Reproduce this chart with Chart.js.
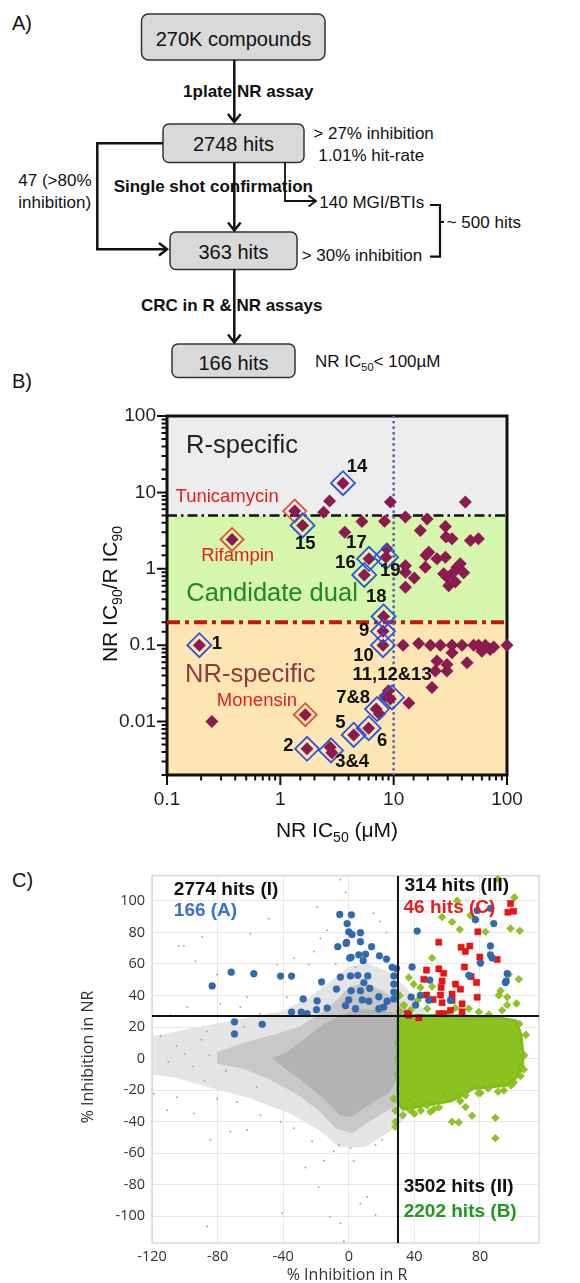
<!DOCTYPE html>
<html>
<head>
<meta charset="utf-8">
<script src="https://cdn.jsdelivr.net/npm/chart.js@4.4.0/dist/chart.umd.min.js"></script>
<style>
  body { margin: 0; background: #fff; }
  #page { position: relative; width: 580px; height: 1283px; overflow: hidden; font-family: 'Liberation Sans', Arial, sans-serif; }
  #flow { position: absolute; left: 0; top: 0; }
  .panel { position: absolute; left: 12px; font-size: 20px; color: #111; }
  #chartB { position: absolute; left: 0; top: 390px; }
  #chartC { position: absolute; left: 0; top: 860px; }
</style>
</head>
<body>
<div id="page">
  <svg id="flow" width="580" height="390" viewBox="0 0 580 390">
    <g font-family="'Liberation Sans', Arial, sans-serif" fill="#111">
      <rect x="141.5" y="14" width="183.5" height="46" rx="7" fill="#d9d9d9" stroke="#333" stroke-width="1.5"/>
      <text x="233.5" y="45.5" font-size="20" text-anchor="middle">270K compounds</text>
      <rect x="163" y="124" width="141" height="38.5" rx="6" fill="#d9d9d9" stroke="#333" stroke-width="1.5"/>
      <text x="233.5" y="151.2" font-size="20" text-anchor="middle">2748 hits</text>
      <rect x="170" y="232" width="127" height="37.5" rx="6" fill="#d9d9d9" stroke="#333" stroke-width="1.5"/>
      <text x="233.5" y="258.9" font-size="20" text-anchor="middle">363 hits</text>
      <rect x="172" y="344" width="123" height="33.5" rx="6" fill="#d9d9d9" stroke="#333" stroke-width="1.5"/>
      <text x="233.5" y="369.5" font-size="20" text-anchor="middle">166 hits</text>

      <text x="248.3" y="96.8" font-size="17" font-weight="bold" text-anchor="middle">1plate NR assay</text>
      <text x="313.3" y="138.8" font-size="17">&gt; 27% inhibition</text>
      <text x="318.3" y="161" font-size="17">1.01% hit-rate</text>
      <text x="18.3" y="186" font-size="17">47 (&gt;80%</text>
      <text x="18.3" y="207.8" font-size="17">inhibition)</text>
      <text x="213.3" y="192" font-size="17" font-weight="bold" text-anchor="middle">Single shot confirmation</text>
      <text x="319.3" y="207.8" font-size="17">140 MGI/BTIs</text>
      <text x="301.7" y="261" font-size="17">&gt; 30% inhibition</text>
      <text x="446.7" y="227.8" font-size="17">~ 500 hits</text>
      <text x="231.7" y="311" font-size="17" font-weight="bold" text-anchor="middle">CRC in R &amp; NR assays</text>
      <text x="315" y="367" font-size="17">NR IC<tspan font-size="11" dy="4">50</tspan><tspan dy="-4">&lt; 100µM</tspan></text>
    </g>
    <g fill="none" stroke="#111" stroke-width="2.5" stroke-linejoin="miter">
      <line x1="234.3" y1="60" x2="234.3" y2="122"/>
      <polyline points="228,114 234.3,122 240.6,114"/>
      <polyline points="163,143.3 97.3,143.3 97.3,249.3 167,249.3"/>
      <polyline points="159,243 167,249.3 159,255.6"/>
      <line x1="234.3" y1="162.5" x2="234.3" y2="230.5"/>
      <polyline points="228,222.5 234.3,230.5 240.6,222.5"/>
      <line x1="234.3" y1="269.5" x2="234.3" y2="342.5"/>
      <polyline points="228,334.5 234.3,342.5 240.6,334.5"/>
      <polyline points="285,162.5 285,201 316,201" stroke-width="1.8"/>
      <polyline points="308.5,195.5 316,201 308.5,206.5" stroke-width="1.8"/>
      <polyline points="430,205 440,205 440,256.7 430,256.7" stroke-width="2.2"/>
      <line x1="440" y1="222" x2="444" y2="222" stroke-width="2"/>
    </g>
  </svg>
  <div class="panel" style="top:12px;">A)</div>
  <div class="panel" style="top:370px;">B)</div>
  <div class="panel" style="top:869px;">C)</div>
  <canvas id="chartB" width="580" height="460"></canvas>
  <canvas id="chartC" width="580" height="423"></canvas>
</div>
<script>
var FONT = "'Liberation Sans', Arial, sans-serif";
var FONT_C = "'Open Sans', 'DejaVu Sans', sans-serif";

// ---------- panel B: NR IC50 (uM) against NR IC90 / R IC90 ----------
var hitIC50 = [0.193, 0.249, 0.375, 1.34, 1.57, 1.66, 1.72, 2.75, 2.85, 2.41, 2.72, 3.57, 3.7, 4.44,
  5.25, 5.5, 6.02, 6.06, 7.0, 7.5, 8.05, 8.05, 8.15, 8.3, 8.56, 8.7, 9.0, 9.35, 8.4, 9.35,
  12.1, 12.7, 12.7, 12.7, 12.7, 13.6, 15.2, 16.6, 17.2, 19.0, 19.3, 19.7, 20.4, 21.1, 21.8,
  23.3, 24.1, 24.1, 25.8, 27.6, 28.6, 28.6, 29.0, 29.5, 29.5, 29.5, 30.6, 32.7, 32.7, 32.7,
  32.7, 35.0, 36.2, 38.7, 40.1, 41.5, 42.9, 44.4, 47.5, 50.8, 56.2, 56.0, 60.0, 64.4, 71.0,
  76.3, 100];
var hitRatio = [0.1, 0.01, 2.42, 5.7, 3.7, 0.0123, 0.0044, 0.0046, 0.0039, 5.5, 7.7, 13.2, 3.0, 0.0067,
  4.17, 0.83, 0.0082, 1.35, 0.0146, 0.0126, 0.152, 0.1, 0.238, 4.2, 1.42, 1.83, 0.0253, 0.0197, 0.0217, 7.5,
  0.1, 4.75, 1.1, 0.9, 0.575, 0.0175, 0.76, 0.105, 3.18, 1.05, 1.5, 4.5, 1.65, 0.1, 0.028,
  0.046, 0.062, 1.35, 0.1, 0.86, 3.59, 1.42, 2.6, 0.78, 0.056, 0.046, 0.6, 2.47, 0.1, 0.0795,
  0.86, 0.67, 1.05, 1.16, 0.1, 0.89, 7.5, 0.059, 2.35, 0.1, 0.1, 2.47, 0.0835, 0.1, 0.088,
  0.095, 0.1];
// numbered compounds (blue) and reference drugs (red)
var blueIC50 = [0.193, 1.72, 2.8, 4.44, 6.02, 7.13, 8.05, 8.05, 9.67, 3.57, 1.57, 5.5, 6.06, 8.15, 8.56];
var blueRatio = [0.1, 0.0044, 0.0042, 0.0067, 0.0082, 0.0146, 0.152, 0.1, 0.0207, 13.2, 3.7, 0.83, 1.35, 0.238, 1.42];
var drugIC50 = [1.34, 0.375, 1.66];
var drugRatio = [5.7, 2.42, 0.0123];
var rSpecificCut = 5;
var nrSpecificCut = 0.2;
var ic50Cut = 10;
var bXMin = 0.1, bXMax = 100, bYMin = 0.002, bYMax = 100;
var bXTickLabels = [0.1, 1, 10, 100];
var bYTickLabels = [0.01, 0.1, 1, 10, 100];

// annotations for panel B: [text, kind, x, y]
var bNotes = [
  ['R-specific', 'region', 0.459, 40.6],
  ['Candidate dual', 'dual', 0.845, 0.462],
  ['NR-specific', 'nr', 0.543, 0.0406],
  ['Tunicamycin', 'drug', 0.339, 8.69],
  ['Rifampin', 'drug', 0.42, 1.46],
  ['Monensin', 'drug', 0.622, 0.0188],
  ['14', 'num', 4.75, 21.4], ['15', 'num', 1.66, 2.12], ['17', 'num', 4.69, 2.16],
  ['16', 'num', 3.75, 1.2], ['19', 'num', 9.35, 0.93], ['18', 'num', 7.03, 0.43],
  ['9', 'num', 5.5, 0.153], ['10', 'num', 5.43, 0.0724], ['11,12&13', 'num', 9.68, 0.0406],
  ['7&8', 'num', 4.39, 0.0203], ['5', 'num', 3.39, 0.0096], ['6', 'num', 7.9, 0.00564],
  ['2', 'num', 1.18, 0.00486], ['3&4', 'num', 4.3, 0.00295], ['1', 'num', 0.276, 0.103]
];

// ---------- panel C: % inhibition in R against % inhibition in NR ----------
// outlines of the dense grey cloud of screened compounds (outer speckle, dense speckle, solid core)
var greyHaloX = [-119, -100, -80, -60, -40, -25, -12, 0, 12, 24, 34, 46, 50, 44, 28, 10, -6, -18, -35, -60, -85, -105, -119];
var greyHaloY = [14, 18, 22, 26, 30, 38, 48, 58, 60, 55, 46, 30, 0, -26, -44, -56, -56, -45, -35, -25, -18, -12, -10];
var greyMidX = [-80, -60, -45, -30, -18, -8, 0, 10, 22, 32, 44, 46, 40, 28, 12, 2, -8, -18, -32, -50, -65, -80];
var greyMidY = [4, 11, 15, 20, 28, 36, 45, 48, 42, 35, 20, 0, -20, -30, -40, -47, -44, -33, -22, -12, -6, -3];
var greyCoreX = [-46, -38, -29.5, -15, -7, 0, 10, 20, 31, 40, 42, 36, 28.5, 25, 11, 1, -5, -15, -29.5, -40];
var greyCoreY = [0, 4, 10, 22, 26, 29, 31, 30, 28, 15, 0, -10, -14, -21, -30, -37, -36, -25.5, -13, -5];
var greySparseX = [-86.3, -40.6, -18.4, -11.3, -5.1, -3, 7.1, 16.3, 11.2, -26.4, -15.2, -9.1, -6.1, 1, 3, 16.3, 20.3,
  -62, -72.2, -84.3, -94.5, -110.8, -53.9, -118.9, -104.7, -80.3, -68.1, -41.6, -33.5, -22.4,
  -103.6, -100.6, -93.5, -89.4, -80.3, -62, -48.8, -60, -19.3, -5.1, -1.9, -13.2, -33.5, -43.7, -24.4,
  -66.1, -78.3, -98.5, -108.7, -114.8, -86.4, -54, -37.8, -21.3, -17.3, 19, 23, 15, -8, 4,
  -110, -105, -95, -90, -85, -75, -70, -64, -56, -100, -88];
var greySparseY = [-106.5, -98.2, -81.6, -100.3, -104.5, -115.9, -92, -99.3, -87.8, -69.1, -65, -58.8, -54.6, -56.7, -65, -54.6, -51.5,
  -45.3, -46.3, -51.5, -34.9, -32.8, -35.9, -22.4, -24.5, -25.5, -27.6, -40.1, -44.2, -52.5,
  71.4, 71.4, 61.7, 77.3, 53.4, 38.9, 88.7, 79.3, 96, 113.6, 105.3, 81.4, 63.8, 59.6, 59.6,
  32.6, 34.7, 32.6, 27.4, 14.1, 17.2, 28.5, 38.9, 67.9, 76.2, 87, 80, 92, 60, 58,
  -2, 8, -5, 12, 2, -8, 16, 20, -18, 3, -14];
// dense green cloud (R-specific hits) and single green hits
var greenCoreX = [29.9, 50, 70, 90, 102, 105, 106, 106, 102, 96, 86, 76, 68, 62, 50, 40, 33, 29.9];
var greenCoreY = [27, 27.5, 27, 26, 24, 15, 5, -5, -12, -17, -18, -19, -24, -27, -29, -31, -32, -28];
var greenX = [90.9, 101, 56.9, 63, 74.2, 67.7, 83.3, 98.6, 104.3, 66.1, 50.8, 80.3, 103.7, 36.6, 39.6, 50.8,
  91.5, 96.6, 102.3, 93.5, 43.7, 33.6, 37.6, 47.8, 73.2, 79.3, 85.4, 97.6, 92.5, 96.6, 60, 65, 42, 31, 31,
  28.5, 28.5, 37.6, 49.8, 47.8, 63, 67.1, 71.2, 75.2, 71.2, 80.3, 89.4, 89.4, 94.5, 100.6, 104.7, 105.7,
  84.4, 60, 39.6, 27.4, 104.7, 102.7, 100.6, 106.7, 28.4, 31, 30, 30, 30,
  33, 40, 55, 58, 68, 85, 99, 107, 108, 104, 96, 44, 52, 79, 91];
var greenY = [114, 102.2, 89.8, 86.6, 90.8, 81.9, 80.4, 82.5, 81, 100.1, 63.8, 61.1, 50.3, 51.4, 47.2, 45.7,
  40.1, 39, 34.9, 30.6, 45.1, 33.9, 30.8, 31.6, 31.6, 29.5, 27.9, 53.4, 43, 34, 28, 32, 37, 40, 30,
  -40.1, -43.2, -32.8, -33.8, -29.7, -40.1, -40.5, -30.7, -36.3, -23.4, -21.8, -37.6, -50.5, -20.3, -15.1, -11, -5.8,
  -16.2, -22.4, -26.6, -25.5, 4.5, 11.8, -11, -6.9, -33, -20, -10, 0, 10,
  -36, -35, -31, -26, -27, -19, -17, 2, 15, 22, -14, -33, -32, -22, -21];
var redX = [98.6, 97, 100.5, 78.7, 54.9, 68.5, 73.8, 71.1, 79.9, 90.5, 47.4, 54.9, 70.5, 74.6, 57.9, 45.8, 56.9,
  65.1, 77.9, 56.3, 47.4, 55.9, 63, 68.1, 78.3, 51.4, 56.9, 69.1, 63, 57.9, 69.1, 36.6, 35.6, 55, 62, 42.7];
var redY = [98.4, 92.8, 93.5, 80.4, 73.8, 70.6, 71.4, 67.9, 64.4, 62.8, 56.1, 56.9, 58.1, 52, 54.1, 50.3, 49.2,
  47.2, 48.2, 45.1, 40.3, 40.3, 40.9, 44, 38.9, 37.4, 35.4, 34.7, 36.8, 28.5, 29.6, 27.5, 28.5, 28.5, 30.6, 25.8];
var blueX = [-83.3, -71.7, -57.9, -41.6, -34.9, -27.8, -16.6, -34.9, -29, -19.3, -13.2, -69.7, -52.8, -69.7, -7.5,
  -25.4, -19.7, -2, 4.1, -5.5, 1.6, -1, 0, 2, 7.1, -1.4, -6.7, 7.1, 13.9, 1.4, 6.1, 10.2, 8.8, 18.7, 23, 26.4,
  29.1, 27.5, -5.1, 1, 5.5, 11.6, 9.2, 12.8, 1.4, 7.1, 0, 8.2, 12.2, 18.3, 23.4, 27.5, 21.3, 18.3, 27.5, 27.5,
  -1.6, 0.6, 78.3, 77.2, 88.4, 41.7, 86.4, 86.4, 87.4, 38.6, 49.4, 96.6, 95.5, 73.2, 43.7, 38, 48.8, 62, 40.7,
  86.4, 80.3, 96];
var blueY = [46.1, 54.8, 53.8, 52.3, 52.3, 37.8, 48.6, 29.5, 29.5, 36.6, 32, 23.3, 21.7, 15.6, 44.1,
  28.5, 31, 33.6, 31.6, 91.4, 91.2, 85.6, 80.4, 78.7, 79.8, 73.7, 71, 74.1, 71, 64.2, 65.8, 66.2, 62.1, 65.2, 63.1, 57.9,
  57.1, 52.4, 51.7, 52.4, 52.8, 52.4, 48.2, 44.5, 43, 43, 37.2, 37.2, 36.4, 39.2, 36.4, 37.8, 32.6, 31.6, 47.2, 42.1,
  73, 63.8, 93.9, 88.1, 85.6, 80.9, 71.4, 65.8, 63.8, 58.1, 49.8, 53.9, 48.2, 52.8, 40.1, 39, 37, 37, 33.9,
  95.3, 60.6, 49.2];
var rCut = 30;   // % inhibition in R
var nrCut = 27;  // % inhibition in NR
var cXMin = -120, cXMax = 116, cYMin = -117, cYMax = 116;
var cXTicks = [-120, -80, -40, 0, 40, 80];
var cYTicks = [-100, -80, -60, -40, -20, 0, 20, 40, 60, 80, 100];
// annotations for panel C: [text, colour, x, y]
var cNotes = [
  ['2774 hits (I)', '#111', -106.7, 107],
  ['166 (A)', '#3a6fd8', -106.7, 93.9],
  ['314 hits (III)', '#111', 34, 109.5],
  ['46 hits (C)', '#f01818', 33.4, 95.6],
  ['3502 hits (II)', '#111', 33.5, -81.2],
  ['2202 hits (B)', '#1f9a1f', 33.5, -97.2]
];

function pts(xs, ys) {
  return xs.map(function (x, i) { return { x: x, y: ys[i] }; });
}
function closed(xs, ys) {
  var p = pts(xs, ys);
  p.push(p[0]);
  return p;
}
function isLabel(v, list) {
  for (var i = 0; i < list.length; i++) {
    if (Math.abs(v - list[i]) / list[i] < 1e-6) return String(list[i]);
  }
  return '';
}
// draws text pieces, some as subscripts
function drawRich(ctx, parts, x, y) {
  var total = 0;
  parts.forEach(function (p) {
    ctx.font = p.size + 'px ' + FONT;
    p.w = ctx.measureText(p.t).width;
    total += p.w;
  });
  var cx = x - total / 2;
  parts.forEach(function (p) {
    ctx.font = p.size + 'px ' + FONT;
    ctx.fillText(p.t, cx, y + (p.dy || 0));
    cx += p.w;
  });
}

var bPlugin = {
  id: 'bDecor',
  beforeDatasetsDraw: function (chart) {
    var ctx = chart.ctx, a = chart.chartArea, xs = chart.scales.x, ys = chart.scales.y;
    ctx.save();
    var yTop = ys.getPixelForValue(bYMax), yR = ys.getPixelForValue(rSpecificCut);
    var yNR = ys.getPixelForValue(nrSpecificCut), yBot = ys.getPixelForValue(bYMin);
    ctx.fillStyle = '#ededed';
    ctx.fillRect(a.left, yTop, a.right - a.left, yR - yTop);
    ctx.fillStyle = '#d6f5ad';
    ctx.fillRect(a.left, yR, a.right - a.left, yNR - yR);
    ctx.fillStyle = '#fde6b4';
    ctx.fillRect(a.left, yNR, a.right - a.left, yBot - yNR);
    // tick marks
    ctx.strokeStyle = '#111';
    ctx.lineWidth = 2;
    ctx.beginPath();
    xs.ticks.forEach(function (t) {
      var px = xs.getPixelForValue(t.value);
      var len = isLabel(t.value, bXTickLabels) ? 10 : 5.5;
      ctx.moveTo(px, a.bottom); ctx.lineTo(px, a.bottom + len);
    });
    ys.ticks.forEach(function (t) {
      var py = ys.getPixelForValue(t.value);
      var len = isLabel(t.value, bYTickLabels) ? 10 : 5.5;
      ctx.moveTo(a.left, py); ctx.lineTo(a.left - len, py);
    });
    ctx.stroke();
    ctx.lineWidth = 3;
    ctx.strokeRect(a.left, a.top, a.right - a.left, a.bottom - a.top);
    ctx.restore();
  },
  afterDatasetsDraw: function (chart) {
    var ctx = chart.ctx, xs = chart.scales.x, ys = chart.scales.y;
    ctx.save();
    ctx.textAlign = 'center';
    ctx.textBaseline = 'middle';
    bNotes.forEach(function (n) {
      var px = xs.getPixelForValue(n[2]), py = ys.getPixelForValue(n[3]);
      if (n[1] === 'num') { ctx.font = 'bold 18.5px ' + FONT; ctx.fillStyle = '#111'; }
      else if (n[1] === 'drug') { ctx.font = '18.5px ' + FONT; ctx.fillStyle = '#e3201b'; }
      else if (n[1] === 'region') { ctx.font = '25.5px ' + FONT; ctx.fillStyle = '#222'; }
      else if (n[1] === 'dual') { ctx.font = '25.5px ' + FONT; ctx.fillStyle = '#1c8a1c'; }
      else { ctx.font = '25.5px ' + FONT; ctx.fillStyle = '#8c3b3b'; }
      ctx.fillText(n[0], px, py);
    });
    // axis titles
    ctx.fillStyle = '#111';
    ctx.textAlign = 'left';
    ctx.textBaseline = 'alphabetic';
    drawRich(ctx, [{ t: 'NR IC', size: 21 }, { t: '50', size: 14, dy: 5 }, { t: ' (μM)', size: 21 }], 337, 447);
    ctx.translate(117, 204);
    ctx.rotate(-Math.PI / 2);
    drawRich(ctx, [{ t: 'NR IC', size: 21 }, { t: '90', size: 14, dy: 5 }, { t: '/R IC', size: 21 }, { t: '90', size: 14, dy: 5 }], 0, 0);
    ctx.restore();
  }
};

var chartB = new Chart(document.getElementById('chartB'), {
  type: 'scatter',
  data: {
    datasets: [
      { data: pts(blueIC50, blueRatio), pointStyle: 'rectRot', pointRadius: 12, backgroundColor: 'rgba(0,0,0,0)',
        borderColor: '#2b55dc', borderWidth: 1.8, clip: false, order: 0 },
      { data: pts(drugIC50, drugRatio), pointStyle: 'rectRot', pointRadius: 11.5, backgroundColor: 'rgba(0,0,0,0)',
        borderColor: '#e8502a', borderWidth: 1.8, clip: false, order: 1 },
      { data: pts(hitIC50, hitRatio), pointStyle: 'rectRot', pointRadius: 6.5, backgroundColor: '#8b1b4e',
        borderColor: '#8b1b4e', borderWidth: 0, clip: false, order: 2 },
      { type: 'line', data: [{ x: bXMin, y: rSpecificCut }, { x: bXMax, y: rSpecificCut }], borderColor: '#111',
        borderWidth: 2.5, borderDash: [10, 4, 2.5, 4], pointRadius: 0, order: 4 },
      { type: 'line', data: [{ x: bXMin, y: nrSpecificCut }, { x: bXMax, y: nrSpecificCut }], borderColor: '#c3170c',
        borderWidth: 4, borderDash: [13, 5, 4, 5], pointRadius: 0, order: 4 },
      { type: 'line', data: [{ x: ic50Cut, y: bYMin }, { x: ic50Cut, y: bYMax }], borderColor: '#4b62b4',
        borderWidth: 2.8, borderDash: [0.1, 5.5], borderCapStyle: 'round', pointRadius: 0, order: 3 }
    ]
  },
  options: {
    responsive: false,
    animation: false,
    events: [],
    layout: { padding: { top: 26, right: 73, left: 0, bottom: 0 } },
    plugins: { legend: { display: false }, tooltip: { enabled: false } },
    scales: {
      x: {
        type: 'logarithmic', min: bXMin, max: bXMax,
        grid: { display: false, drawTicks: false }, border: { display: false },
        ticks: { autoSkip: false, maxRotation: 0, padding: 13, color: '#222', font: { family: FONT, size: 19 },
          callback: function (v) { return isLabel(v, bXTickLabels); } },
        afterFit: function (s) { s.height = 75; }
      },
      y: {
        type: 'logarithmic', min: bYMin, max: bYMax,
        grid: { display: false, drawTicks: false }, border: { display: false },
        ticks: { autoSkip: false, padding: 11, color: '#222', font: { family: FONT, size: 19 },
          callback: function (v) { return isLabel(v, bYTickLabels); } },
        afterFit: function (s) { s.width = 167; }
      }
    }
  },
  plugins: [bPlugin]
});

var cPlugin = {
  id: 'cDecor',
  beforeDatasetsDraw: function (chart) {
    var ctx = chart.ctx, a = chart.chartArea;
    ctx.save();
    ctx.strokeStyle = '#d7d7d7';
    ctx.lineWidth = 1.5;
    ctx.strokeRect(a.left, a.top, a.right - a.left, a.bottom - a.top);
    ctx.restore();
  },
  afterDatasetsDraw: function (chart) {
    var ctx = chart.ctx, xs = chart.scales.x, ys = chart.scales.y;
    ctx.save();
    ctx.textAlign = 'left';
    ctx.textBaseline = 'middle';
    ctx.font = 'bold 19px ' + FONT;
    cNotes.forEach(function (n) {
      ctx.fillStyle = n[1];
      ctx.fillText(n[0], xs.getPixelForValue(n[2]), ys.getPixelForValue(n[3]));
    });
    ctx.fillStyle = '#333';
    ctx.textAlign = 'center';
    ctx.font = '16px ' + FONT_C;
    ctx.fillText('% Inhibition in R', 347, 415);
    ctx.translate(88, 197);
    ctx.rotate(-Math.PI / 2);
    ctx.fillText('% Inhibition in NR', 0, 0);
    ctx.restore();
  }
};

var chartC = new Chart(document.getElementById('chartC'), {
  type: 'scatter',
  data: {
    datasets: [
      { type: 'line', data: [{ x: rCut, y: cYMin }, { x: rCut, y: cYMax }], borderColor: '#111', borderWidth: 2,
        pointRadius: 0, order: 0 },
      { type: 'line', data: [{ x: cXMin, y: nrCut }, { x: cXMax, y: nrCut }], borderColor: '#111', borderWidth: 2,
        pointRadius: 0, order: 0 },
      { data: pts(blueX, blueY), pointStyle: 'circle', pointRadius: 3.4, backgroundColor: '#2f6bb3',
        borderColor: '#2a5e9f', borderWidth: 0.5, order: 1 },
      { data: pts(redX, redY), pointStyle: 'rect', pointRadius: 4.3, backgroundColor: '#f01212',
        borderColor: '#d00', borderWidth: 0.5, order: 2 },
      { data: pts(greenX, greenY), pointStyle: 'rectRot', pointRadius: 3.8, backgroundColor: '#8fc51f',
        borderColor: '#79ad12', borderWidth: 0.6, order: 3 },
      { type: 'line', data: closed(greenCoreX, greenCoreY), fill: 'shape', backgroundColor: '#8cc21f',
        borderColor: '#86bb1c', borderWidth: 3, pointRadius: 0, tension: 0, order: 4 },
      { data: pts(greySparseX, greySparseY), pointStyle: 'circle', pointRadius: 1, backgroundColor: '#a9a9a9',
        borderWidth: 0, order: 5 },
      { type: 'line', data: closed(greyCoreX, greyCoreY), fill: 'shape', backgroundColor: '#b3b3b3',
        borderColor: '#b3b3b3', borderWidth: 1, pointRadius: 0, tension: 0, order: 6 },
      { type: 'line', data: closed(greyMidX, greyMidY), fill: 'shape', backgroundColor: '#c8c8c8',
        borderColor: '#c8c8c8', borderWidth: 1, pointRadius: 0, tension: 0, order: 7 },
      { type: 'line', data: closed(greyHaloX, greyHaloY), fill: 'shape', backgroundColor: '#e4e4e4',
        borderColor: '#e4e4e4', borderWidth: 1, pointRadius: 0, tension: 0, order: 8 }
    ]
  },
  options: {
    responsive: false,
    animation: false,
    events: [],
    layout: { padding: { top: 9, right: 41, left: 0, bottom: 0 } },
    plugins: { legend: { display: false }, tooltip: { enabled: false } },
    scales: {
      x: {
        type: 'linear', min: cXMin, max: cXMax,
        afterBuildTicks: function (s) { s.ticks = cXTicks.map(function (v) { return { value: v }; }); },
        grid: { color: '#e7e7e7', drawTicks: false }, border: { display: false },
        ticks: { autoSkip: false, maxRotation: 0, padding: 5, color: '#333', font: { family: FONT_C, size: 14.5 } },
        afterFit: function (s) { s.height = 40; }
      },
      y: {
        type: 'linear', min: cYMin, max: cYMax,
        afterBuildTicks: function (s) { s.ticks = cYTicks.map(function (v) { return { value: v }; }); },
        grid: { color: '#e7e7e7', drawTicks: false }, border: { display: false },
        ticks: { autoSkip: false, padding: 7, color: '#333', font: { family: FONT_C, size: 14.5 } },
        afterFit: function (s) { s.width = 152; }
      }
    }
  },
  plugins: [cPlugin]
});
</script>
</body>
</html>
